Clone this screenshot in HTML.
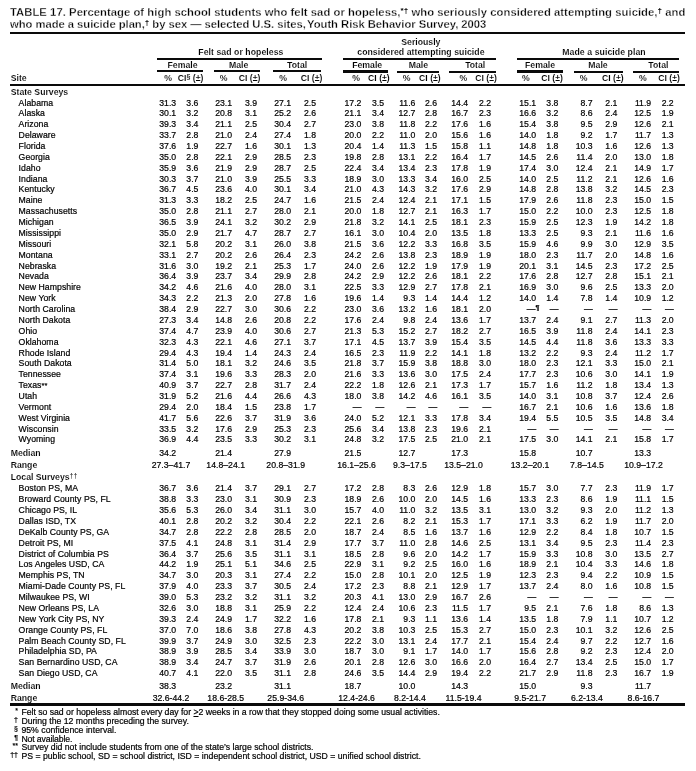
<!DOCTYPE html>
<html lang="en"><head><meta charset="utf-8"><title>TABLE 17</title>
<style>
html,body{margin:0;padding:0;background:#fff}
body{width:696px;height:771px;position:relative;overflow:hidden;font-family:"Liberation Sans",sans-serif;color:#000}
.x{position:absolute;white-space:nowrap;line-height:10px;font-size:8.7px;-webkit-text-stroke:.2px #000}
.b{font-weight:bold;-webkit-text-stroke:.1px #fff}
.t{line-height:12px;font-size:11.25px;font-weight:bold;-webkit-text-stroke:.3px #fff}
.r{position:absolute;background:#0a0a0a}
sup{font-size:.82em;line-height:0;vertical-align:baseline;position:relative;top:-.28em}
.t sup{font-size:.72em;top:-.42em;-webkit-text-stroke:0}
.c{transform:translateX(-50%)}
u{text-decoration:underline}
</style></head><body>
<div class="r" style="left:10px;top:32px;width:675px;height:2px"></div>
<div class="r" style="left:157px;top:58px;width:165px;height:2px"></div>
<div class="r" style="left:343px;top:58px;width:153px;height:2px"></div>
<div class="r" style="left:517px;top:58px;width:162px;height:2px"></div>
<div class="r" style="left:157px;top:70px;width:46px;height:2px"></div>
<div class="r" style="left:214px;top:70px;width:46px;height:2px"></div>
<div class="r" style="left:273px;top:70px;width:48px;height:2px"></div>
<div class="r" style="left:343px;top:70px;width:45px;height:3px"></div>
<div class="r" style="left:397px;top:71px;width:42px;height:2px"></div>
<div class="r" style="left:449px;top:71px;width:47px;height:2px"></div>
<div class="r" style="left:517px;top:70px;width:46px;height:3px"></div>
<div class="r" style="left:574px;top:71px;width:49px;height:2px"></div>
<div class="r" style="left:633px;top:71px;width:46px;height:2px"></div>
<div class="r" style="left:10px;top:84px;width:675px;height:2px"></div>
<div class="r" style="left:10px;top:703px;width:675px;height:2.5px"></div>
<div class="x t" style="top:6.1px;left:10px;letter-spacing:0.053px;">TABLE 17. Percentage of high school students who felt sad or hopeless,<sup>*†</sup> who seriously considered attempting suicide,<sup>†</sup> and</div>
<div class="x t" style="top:18.1px;left:10px;letter-spacing:-0.037px;">who made a suicide plan,<sup>†</sup> by sex — selected U.S. sites,<span style="margin-left:-1.5px"> </span>Youth Risk Behavior Survey, 2003</div>
<div class="x b c" style="top:46.79px;left:240.9px;letter-spacing:0.059px;">Felt sad or hopeless</div>
<div class="x b c" style="top:37.19px;left:420.9px;">Seriously</div>
<div class="x b c" style="top:46.79px;left:420.9px;letter-spacing:0.062px;">considered attempting suicide</div>
<div class="x b c" style="top:46.79px;left:604px;letter-spacing:0.075px;">Made a suicide plan</div>
<div class="x b c" style="top:59.79px;left:182.5px;">Female</div>
<div class="x b c" style="top:59.79px;left:238.6px;">Male</div>
<div class="x b c" style="top:59.79px;left:297.1px;">Total</div>
<div class="x b c" style="top:59.79px;left:367.2px;">Female</div>
<div class="x b c" style="top:59.79px;left:418.4px;">Male</div>
<div class="x b c" style="top:59.79px;left:475.2px;">Total</div>
<div class="x b c" style="top:59.79px;left:540px;">Female</div>
<div class="x b c" style="top:59.79px;left:598px;">Male</div>
<div class="x b c" style="top:59.79px;left:658.4px;">Total</div>
<div class="x b" style="top:72.99px;left:164.2px;">%</div>
<div class="x b" style="top:72.99px;right:492.6px;">CI<sup>§</sup> (±)</div>
<div class="x b" style="top:72.99px;left:219.8px;">%</div>
<div class="x b" style="top:72.99px;right:435.7px;">CI (±)</div>
<div class="x b" style="top:72.99px;left:279.3px;">%</div>
<div class="x b" style="top:72.99px;right:373.6px;">CI (±)</div>
<div class="x b" style="top:72.99px;left:352.3px;">%</div>
<div class="x b" style="top:72.99px;right:306.3px;">CI (±)</div>
<div class="x b" style="top:72.99px;left:402.8px;">%</div>
<div class="x b" style="top:72.99px;right:255.3px;">CI (±)</div>
<div class="x b" style="top:72.99px;left:459.6px;">%</div>
<div class="x b" style="top:72.99px;right:199.2px;">CI (±)</div>
<div class="x b" style="top:72.99px;left:522px;">%</div>
<div class="x b" style="top:72.99px;right:133.1px;">CI (±)</div>
<div class="x b" style="top:72.99px;left:579.7px;">%</div>
<div class="x b" style="top:72.99px;right:72.4px;">CI (±)</div>
<div class="x b" style="top:72.99px;left:638.9px;">%</div>
<div class="x b" style="top:72.99px;right:16.2px;">CI (±)</div>
<div class="x b" style="top:72.99px;left:10.7px;">Site</div>
<div class="x b" style="top:86.99px;left:10.7px;">State Surveys</div>
<div class="x" style="top:97.99px;left:18.6px;letter-spacing:0.04px;">Alabama</div>
<div class="x" style="top:97.99px;right:519.8px;">31.3</div>
<div class="x" style="top:97.99px;right:497.6px;">3.6</div>
<div class="x" style="top:97.99px;right:463.9px;">23.1</div>
<div class="x" style="top:97.99px;right:438.9px;">3.9</div>
<div class="x" style="top:97.99px;right:404.9px;">27.1</div>
<div class="x" style="top:97.99px;right:379.9px;">2.5</div>
<div class="x" style="top:97.99px;right:334.6px;">17.2</div>
<div class="x" style="top:97.99px;right:311.9px;">3.5</div>
<div class="x" style="top:97.99px;right:280.6px;">11.6</div>
<div class="x" style="top:97.99px;right:258.9px;">2.6</div>
<div class="x" style="top:97.99px;right:227.8px;">14.4</div>
<div class="x" style="top:97.99px;right:204.9px;">2.2</div>
<div class="x" style="top:97.99px;right:159.8px;">15.1</div>
<div class="x" style="top:97.99px;right:137.6px;">3.8</div>
<div class="x" style="top:97.99px;right:103.4px;">8.7</div>
<div class="x" style="top:97.99px;right:78.6px;">2.1</div>
<div class="x" style="top:97.99px;right:44.8px;">11.9</div>
<div class="x" style="top:97.99px;right:22.3px;">2.2</div>
<div class="x" style="top:107.99px;left:18.6px;letter-spacing:0.04px;">Alaska</div>
<div class="x" style="top:107.99px;right:519.8px;">30.1</div>
<div class="x" style="top:107.99px;right:497.6px;">3.2</div>
<div class="x" style="top:107.99px;right:463.9px;">20.8</div>
<div class="x" style="top:107.99px;right:438.9px;">3.1</div>
<div class="x" style="top:107.99px;right:404.9px;">25.2</div>
<div class="x" style="top:107.99px;right:379.9px;">2.6</div>
<div class="x" style="top:107.99px;right:334.6px;">21.1</div>
<div class="x" style="top:107.99px;right:311.9px;">3.4</div>
<div class="x" style="top:107.99px;right:280.6px;">12.7</div>
<div class="x" style="top:107.99px;right:258.9px;">2.8</div>
<div class="x" style="top:107.99px;right:227.8px;">16.7</div>
<div class="x" style="top:107.99px;right:204.9px;">2.3</div>
<div class="x" style="top:107.99px;right:159.8px;">16.6</div>
<div class="x" style="top:107.99px;right:137.6px;">3.2</div>
<div class="x" style="top:107.99px;right:103.4px;">8.6</div>
<div class="x" style="top:107.99px;right:78.6px;">2.4</div>
<div class="x" style="top:107.99px;right:44.8px;">12.5</div>
<div class="x" style="top:107.99px;right:22.3px;">1.9</div>
<div class="x" style="top:118.99px;left:18.6px;letter-spacing:0.04px;">Arizona</div>
<div class="x" style="top:118.99px;right:519.8px;">39.3</div>
<div class="x" style="top:118.99px;right:497.6px;">3.4</div>
<div class="x" style="top:118.99px;right:463.9px;">21.1</div>
<div class="x" style="top:118.99px;right:438.9px;">2.5</div>
<div class="x" style="top:118.99px;right:404.9px;">30.4</div>
<div class="x" style="top:118.99px;right:379.9px;">2.7</div>
<div class="x" style="top:118.99px;right:334.6px;">23.0</div>
<div class="x" style="top:118.99px;right:311.9px;">3.8</div>
<div class="x" style="top:118.99px;right:280.6px;">11.8</div>
<div class="x" style="top:118.99px;right:258.9px;">2.2</div>
<div class="x" style="top:118.99px;right:227.8px;">17.6</div>
<div class="x" style="top:118.99px;right:204.9px;">1.6</div>
<div class="x" style="top:118.99px;right:159.8px;">15.4</div>
<div class="x" style="top:118.99px;right:137.6px;">3.8</div>
<div class="x" style="top:118.99px;right:103.4px;">9.5</div>
<div class="x" style="top:118.99px;right:78.6px;">2.9</div>
<div class="x" style="top:118.99px;right:44.8px;">12.6</div>
<div class="x" style="top:118.99px;right:22.3px;">2.1</div>
<div class="x" style="top:129.99px;left:18.6px;letter-spacing:0.04px;">Delaware</div>
<div class="x" style="top:129.99px;right:519.8px;">33.7</div>
<div class="x" style="top:129.99px;right:497.6px;">2.8</div>
<div class="x" style="top:129.99px;right:463.9px;">21.0</div>
<div class="x" style="top:129.99px;right:438.9px;">2.4</div>
<div class="x" style="top:129.99px;right:404.9px;">27.4</div>
<div class="x" style="top:129.99px;right:379.9px;">1.8</div>
<div class="x" style="top:129.99px;right:334.6px;">20.0</div>
<div class="x" style="top:129.99px;right:311.9px;">2.2</div>
<div class="x" style="top:129.99px;right:280.6px;">11.0</div>
<div class="x" style="top:129.99px;right:258.9px;">2.0</div>
<div class="x" style="top:129.99px;right:227.8px;">15.6</div>
<div class="x" style="top:129.99px;right:204.9px;">1.6</div>
<div class="x" style="top:129.99px;right:159.8px;">14.0</div>
<div class="x" style="top:129.99px;right:137.6px;">1.8</div>
<div class="x" style="top:129.99px;right:103.4px;">9.2</div>
<div class="x" style="top:129.99px;right:78.6px;">1.7</div>
<div class="x" style="top:129.99px;right:44.8px;">11.7</div>
<div class="x" style="top:129.99px;right:22.3px;">1.3</div>
<div class="x" style="top:140.99px;left:18.6px;letter-spacing:0.04px;">Florida</div>
<div class="x" style="top:140.99px;right:519.8px;">37.6</div>
<div class="x" style="top:140.99px;right:497.6px;">1.9</div>
<div class="x" style="top:140.99px;right:463.9px;">22.7</div>
<div class="x" style="top:140.99px;right:438.9px;">1.6</div>
<div class="x" style="top:140.99px;right:404.9px;">30.1</div>
<div class="x" style="top:140.99px;right:379.9px;">1.3</div>
<div class="x" style="top:140.99px;right:334.6px;">20.4</div>
<div class="x" style="top:140.99px;right:311.9px;">1.4</div>
<div class="x" style="top:140.99px;right:280.6px;">11.3</div>
<div class="x" style="top:140.99px;right:258.9px;">1.5</div>
<div class="x" style="top:140.99px;right:227.8px;">15.8</div>
<div class="x" style="top:140.99px;right:204.9px;">1.1</div>
<div class="x" style="top:140.99px;right:159.8px;">14.8</div>
<div class="x" style="top:140.99px;right:137.6px;">1.8</div>
<div class="x" style="top:140.99px;right:103.4px;">10.3</div>
<div class="x" style="top:140.99px;right:78.6px;">1.6</div>
<div class="x" style="top:140.99px;right:44.8px;">12.6</div>
<div class="x" style="top:140.99px;right:22.3px;">1.3</div>
<div class="x" style="top:151.99px;left:18.6px;letter-spacing:0.04px;">Georgia</div>
<div class="x" style="top:151.99px;right:519.8px;">35.0</div>
<div class="x" style="top:151.99px;right:497.6px;">2.8</div>
<div class="x" style="top:151.99px;right:463.9px;">22.1</div>
<div class="x" style="top:151.99px;right:438.9px;">2.9</div>
<div class="x" style="top:151.99px;right:404.9px;">28.5</div>
<div class="x" style="top:151.99px;right:379.9px;">2.3</div>
<div class="x" style="top:151.99px;right:334.6px;">19.8</div>
<div class="x" style="top:151.99px;right:311.9px;">2.8</div>
<div class="x" style="top:151.99px;right:280.6px;">13.1</div>
<div class="x" style="top:151.99px;right:258.9px;">2.2</div>
<div class="x" style="top:151.99px;right:227.8px;">16.4</div>
<div class="x" style="top:151.99px;right:204.9px;">1.7</div>
<div class="x" style="top:151.99px;right:159.8px;">14.5</div>
<div class="x" style="top:151.99px;right:137.6px;">2.6</div>
<div class="x" style="top:151.99px;right:103.4px;">11.4</div>
<div class="x" style="top:151.99px;right:78.6px;">2.0</div>
<div class="x" style="top:151.99px;right:44.8px;">13.0</div>
<div class="x" style="top:151.99px;right:22.3px;">1.8</div>
<div class="x" style="top:162.99px;left:18.6px;letter-spacing:0.04px;">Idaho</div>
<div class="x" style="top:162.99px;right:519.8px;">35.9</div>
<div class="x" style="top:162.99px;right:497.6px;">3.6</div>
<div class="x" style="top:162.99px;right:463.9px;">21.9</div>
<div class="x" style="top:162.99px;right:438.9px;">2.9</div>
<div class="x" style="top:162.99px;right:404.9px;">28.7</div>
<div class="x" style="top:162.99px;right:379.9px;">2.5</div>
<div class="x" style="top:162.99px;right:334.6px;">22.4</div>
<div class="x" style="top:162.99px;right:311.9px;">3.4</div>
<div class="x" style="top:162.99px;right:280.6px;">13.4</div>
<div class="x" style="top:162.99px;right:258.9px;">2.3</div>
<div class="x" style="top:162.99px;right:227.8px;">17.8</div>
<div class="x" style="top:162.99px;right:204.9px;">1.9</div>
<div class="x" style="top:162.99px;right:159.8px;">17.4</div>
<div class="x" style="top:162.99px;right:137.6px;">3.0</div>
<div class="x" style="top:162.99px;right:103.4px;">12.4</div>
<div class="x" style="top:162.99px;right:78.6px;">2.1</div>
<div class="x" style="top:162.99px;right:44.8px;">14.9</div>
<div class="x" style="top:162.99px;right:22.3px;">1.7</div>
<div class="x" style="top:173.99px;left:18.6px;letter-spacing:0.04px;">Indiana</div>
<div class="x" style="top:173.99px;right:519.8px;">30.3</div>
<div class="x" style="top:173.99px;right:497.6px;">3.7</div>
<div class="x" style="top:173.99px;right:463.9px;">21.0</div>
<div class="x" style="top:173.99px;right:438.9px;">3.9</div>
<div class="x" style="top:173.99px;right:404.9px;">25.5</div>
<div class="x" style="top:173.99px;right:379.9px;">3.3</div>
<div class="x" style="top:173.99px;right:334.6px;">18.9</div>
<div class="x" style="top:173.99px;right:311.9px;">3.0</div>
<div class="x" style="top:173.99px;right:280.6px;">13.3</div>
<div class="x" style="top:173.99px;right:258.9px;">3.4</div>
<div class="x" style="top:173.99px;right:227.8px;">16.0</div>
<div class="x" style="top:173.99px;right:204.9px;">2.5</div>
<div class="x" style="top:173.99px;right:159.8px;">14.0</div>
<div class="x" style="top:173.99px;right:137.6px;">2.5</div>
<div class="x" style="top:173.99px;right:103.4px;">11.2</div>
<div class="x" style="top:173.99px;right:78.6px;">2.1</div>
<div class="x" style="top:173.99px;right:44.8px;">12.6</div>
<div class="x" style="top:173.99px;right:22.3px;">1.6</div>
<div class="x" style="top:183.99px;left:18.6px;letter-spacing:0.04px;">Kentucky</div>
<div class="x" style="top:183.99px;right:519.8px;">36.7</div>
<div class="x" style="top:183.99px;right:497.6px;">4.5</div>
<div class="x" style="top:183.99px;right:463.9px;">23.6</div>
<div class="x" style="top:183.99px;right:438.9px;">4.0</div>
<div class="x" style="top:183.99px;right:404.9px;">30.1</div>
<div class="x" style="top:183.99px;right:379.9px;">3.4</div>
<div class="x" style="top:183.99px;right:334.6px;">21.0</div>
<div class="x" style="top:183.99px;right:311.9px;">4.3</div>
<div class="x" style="top:183.99px;right:280.6px;">14.3</div>
<div class="x" style="top:183.99px;right:258.9px;">3.2</div>
<div class="x" style="top:183.99px;right:227.8px;">17.6</div>
<div class="x" style="top:183.99px;right:204.9px;">2.9</div>
<div class="x" style="top:183.99px;right:159.8px;">14.8</div>
<div class="x" style="top:183.99px;right:137.6px;">2.8</div>
<div class="x" style="top:183.99px;right:103.4px;">13.8</div>
<div class="x" style="top:183.99px;right:78.6px;">3.2</div>
<div class="x" style="top:183.99px;right:44.8px;">14.5</div>
<div class="x" style="top:183.99px;right:22.3px;">2.3</div>
<div class="x" style="top:194.99px;left:18.6px;letter-spacing:0.04px;">Maine</div>
<div class="x" style="top:194.99px;right:519.8px;">31.3</div>
<div class="x" style="top:194.99px;right:497.6px;">3.3</div>
<div class="x" style="top:194.99px;right:463.9px;">18.2</div>
<div class="x" style="top:194.99px;right:438.9px;">2.5</div>
<div class="x" style="top:194.99px;right:404.9px;">24.7</div>
<div class="x" style="top:194.99px;right:379.9px;">1.6</div>
<div class="x" style="top:194.99px;right:334.6px;">21.5</div>
<div class="x" style="top:194.99px;right:311.9px;">2.4</div>
<div class="x" style="top:194.99px;right:280.6px;">12.4</div>
<div class="x" style="top:194.99px;right:258.9px;">2.1</div>
<div class="x" style="top:194.99px;right:227.8px;">17.1</div>
<div class="x" style="top:194.99px;right:204.9px;">1.5</div>
<div class="x" style="top:194.99px;right:159.8px;">17.9</div>
<div class="x" style="top:194.99px;right:137.6px;">2.6</div>
<div class="x" style="top:194.99px;right:103.4px;">11.8</div>
<div class="x" style="top:194.99px;right:78.6px;">2.3</div>
<div class="x" style="top:194.99px;right:44.8px;">15.0</div>
<div class="x" style="top:194.99px;right:22.3px;">1.5</div>
<div class="x" style="top:205.99px;left:18.6px;letter-spacing:0.04px;">Massachusetts</div>
<div class="x" style="top:205.99px;right:519.8px;">35.0</div>
<div class="x" style="top:205.99px;right:497.6px;">2.8</div>
<div class="x" style="top:205.99px;right:463.9px;">21.1</div>
<div class="x" style="top:205.99px;right:438.9px;">2.7</div>
<div class="x" style="top:205.99px;right:404.9px;">28.0</div>
<div class="x" style="top:205.99px;right:379.9px;">2.1</div>
<div class="x" style="top:205.99px;right:334.6px;">20.0</div>
<div class="x" style="top:205.99px;right:311.9px;">1.8</div>
<div class="x" style="top:205.99px;right:280.6px;">12.7</div>
<div class="x" style="top:205.99px;right:258.9px;">2.1</div>
<div class="x" style="top:205.99px;right:227.8px;">16.3</div>
<div class="x" style="top:205.99px;right:204.9px;">1.7</div>
<div class="x" style="top:205.99px;right:159.8px;">15.0</div>
<div class="x" style="top:205.99px;right:137.6px;">2.2</div>
<div class="x" style="top:205.99px;right:103.4px;">10.0</div>
<div class="x" style="top:205.99px;right:78.6px;">2.3</div>
<div class="x" style="top:205.99px;right:44.8px;">12.5</div>
<div class="x" style="top:205.99px;right:22.3px;">1.8</div>
<div class="x" style="top:216.99px;left:18.6px;letter-spacing:0.04px;">Michigan</div>
<div class="x" style="top:216.99px;right:519.8px;">36.5</div>
<div class="x" style="top:216.99px;right:497.6px;">3.9</div>
<div class="x" style="top:216.99px;right:463.9px;">24.1</div>
<div class="x" style="top:216.99px;right:438.9px;">3.2</div>
<div class="x" style="top:216.99px;right:404.9px;">30.2</div>
<div class="x" style="top:216.99px;right:379.9px;">2.9</div>
<div class="x" style="top:216.99px;right:334.6px;">21.8</div>
<div class="x" style="top:216.99px;right:311.9px;">3.2</div>
<div class="x" style="top:216.99px;right:280.6px;">14.1</div>
<div class="x" style="top:216.99px;right:258.9px;">2.5</div>
<div class="x" style="top:216.99px;right:227.8px;">18.1</div>
<div class="x" style="top:216.99px;right:204.9px;">2.3</div>
<div class="x" style="top:216.99px;right:159.8px;">15.9</div>
<div class="x" style="top:216.99px;right:137.6px;">2.5</div>
<div class="x" style="top:216.99px;right:103.4px;">12.3</div>
<div class="x" style="top:216.99px;right:78.6px;">1.9</div>
<div class="x" style="top:216.99px;right:44.8px;">14.2</div>
<div class="x" style="top:216.99px;right:22.3px;">1.8</div>
<div class="x" style="top:227.99px;left:18.6px;letter-spacing:0.04px;">Mississippi</div>
<div class="x" style="top:227.99px;right:519.8px;">35.0</div>
<div class="x" style="top:227.99px;right:497.6px;">2.9</div>
<div class="x" style="top:227.99px;right:463.9px;">21.7</div>
<div class="x" style="top:227.99px;right:438.9px;">4.7</div>
<div class="x" style="top:227.99px;right:404.9px;">28.7</div>
<div class="x" style="top:227.99px;right:379.9px;">2.7</div>
<div class="x" style="top:227.99px;right:334.6px;">16.1</div>
<div class="x" style="top:227.99px;right:311.9px;">3.0</div>
<div class="x" style="top:227.99px;right:280.6px;">10.4</div>
<div class="x" style="top:227.99px;right:258.9px;">2.0</div>
<div class="x" style="top:227.99px;right:227.8px;">13.5</div>
<div class="x" style="top:227.99px;right:204.9px;">1.8</div>
<div class="x" style="top:227.99px;right:159.8px;">13.3</div>
<div class="x" style="top:227.99px;right:137.6px;">2.5</div>
<div class="x" style="top:227.99px;right:103.4px;">9.3</div>
<div class="x" style="top:227.99px;right:78.6px;">2.1</div>
<div class="x" style="top:227.99px;right:44.8px;">11.6</div>
<div class="x" style="top:227.99px;right:22.3px;">1.6</div>
<div class="x" style="top:238.99px;left:18.6px;letter-spacing:0.04px;">Missouri</div>
<div class="x" style="top:238.99px;right:519.8px;">32.1</div>
<div class="x" style="top:238.99px;right:497.6px;">5.8</div>
<div class="x" style="top:238.99px;right:463.9px;">20.2</div>
<div class="x" style="top:238.99px;right:438.9px;">3.1</div>
<div class="x" style="top:238.99px;right:404.9px;">26.0</div>
<div class="x" style="top:238.99px;right:379.9px;">3.8</div>
<div class="x" style="top:238.99px;right:334.6px;">21.5</div>
<div class="x" style="top:238.99px;right:311.9px;">3.6</div>
<div class="x" style="top:238.99px;right:280.6px;">12.2</div>
<div class="x" style="top:238.99px;right:258.9px;">3.3</div>
<div class="x" style="top:238.99px;right:227.8px;">16.8</div>
<div class="x" style="top:238.99px;right:204.9px;">3.5</div>
<div class="x" style="top:238.99px;right:159.8px;">15.9</div>
<div class="x" style="top:238.99px;right:137.6px;">4.6</div>
<div class="x" style="top:238.99px;right:103.4px;">9.9</div>
<div class="x" style="top:238.99px;right:78.6px;">3.0</div>
<div class="x" style="top:238.99px;right:44.8px;">12.9</div>
<div class="x" style="top:238.99px;right:22.3px;">3.5</div>
<div class="x" style="top:249.99px;left:18.6px;letter-spacing:0.04px;">Montana</div>
<div class="x" style="top:249.99px;right:519.8px;">33.1</div>
<div class="x" style="top:249.99px;right:497.6px;">2.7</div>
<div class="x" style="top:249.99px;right:463.9px;">20.2</div>
<div class="x" style="top:249.99px;right:438.9px;">2.6</div>
<div class="x" style="top:249.99px;right:404.9px;">26.4</div>
<div class="x" style="top:249.99px;right:379.9px;">2.3</div>
<div class="x" style="top:249.99px;right:334.6px;">24.2</div>
<div class="x" style="top:249.99px;right:311.9px;">2.6</div>
<div class="x" style="top:249.99px;right:280.6px;">13.8</div>
<div class="x" style="top:249.99px;right:258.9px;">2.3</div>
<div class="x" style="top:249.99px;right:227.8px;">18.9</div>
<div class="x" style="top:249.99px;right:204.9px;">1.9</div>
<div class="x" style="top:249.99px;right:159.8px;">18.0</div>
<div class="x" style="top:249.99px;right:137.6px;">2.3</div>
<div class="x" style="top:249.99px;right:103.4px;">11.7</div>
<div class="x" style="top:249.99px;right:78.6px;">2.0</div>
<div class="x" style="top:249.99px;right:44.8px;">14.8</div>
<div class="x" style="top:249.99px;right:22.3px;">1.6</div>
<div class="x" style="top:260.99px;left:18.6px;letter-spacing:0.04px;">Nebraska</div>
<div class="x" style="top:260.99px;right:519.8px;">31.6</div>
<div class="x" style="top:260.99px;right:497.6px;">3.0</div>
<div class="x" style="top:260.99px;right:463.9px;">19.2</div>
<div class="x" style="top:260.99px;right:438.9px;">2.1</div>
<div class="x" style="top:260.99px;right:404.9px;">25.3</div>
<div class="x" style="top:260.99px;right:379.9px;">1.7</div>
<div class="x" style="top:260.99px;right:334.6px;">24.0</div>
<div class="x" style="top:260.99px;right:311.9px;">2.6</div>
<div class="x" style="top:260.99px;right:280.6px;">12.2</div>
<div class="x" style="top:260.99px;right:258.9px;">1.9</div>
<div class="x" style="top:260.99px;right:227.8px;">17.9</div>
<div class="x" style="top:260.99px;right:204.9px;">1.9</div>
<div class="x" style="top:260.99px;right:159.8px;">20.1</div>
<div class="x" style="top:260.99px;right:137.6px;">3.1</div>
<div class="x" style="top:260.99px;right:103.4px;">14.5</div>
<div class="x" style="top:260.99px;right:78.6px;">2.3</div>
<div class="x" style="top:260.99px;right:44.8px;">17.2</div>
<div class="x" style="top:260.99px;right:22.3px;">2.5</div>
<div class="x" style="top:270.99px;left:18.6px;letter-spacing:0.04px;">Nevada</div>
<div class="x" style="top:270.99px;right:519.8px;">36.4</div>
<div class="x" style="top:270.99px;right:497.6px;">3.9</div>
<div class="x" style="top:270.99px;right:463.9px;">23.7</div>
<div class="x" style="top:270.99px;right:438.9px;">3.4</div>
<div class="x" style="top:270.99px;right:404.9px;">29.9</div>
<div class="x" style="top:270.99px;right:379.9px;">2.8</div>
<div class="x" style="top:270.99px;right:334.6px;">24.2</div>
<div class="x" style="top:270.99px;right:311.9px;">2.9</div>
<div class="x" style="top:270.99px;right:280.6px;">12.2</div>
<div class="x" style="top:270.99px;right:258.9px;">2.6</div>
<div class="x" style="top:270.99px;right:227.8px;">18.1</div>
<div class="x" style="top:270.99px;right:204.9px;">2.2</div>
<div class="x" style="top:270.99px;right:159.8px;">17.6</div>
<div class="x" style="top:270.99px;right:137.6px;">2.8</div>
<div class="x" style="top:270.99px;right:103.4px;">12.7</div>
<div class="x" style="top:270.99px;right:78.6px;">2.8</div>
<div class="x" style="top:270.99px;right:44.8px;">15.1</div>
<div class="x" style="top:270.99px;right:22.3px;">2.1</div>
<div class="x" style="top:281.99px;left:18.6px;letter-spacing:0.04px;">New Hampshire</div>
<div class="x" style="top:281.99px;right:519.8px;">34.2</div>
<div class="x" style="top:281.99px;right:497.6px;">4.6</div>
<div class="x" style="top:281.99px;right:463.9px;">21.6</div>
<div class="x" style="top:281.99px;right:438.9px;">4.0</div>
<div class="x" style="top:281.99px;right:404.9px;">28.0</div>
<div class="x" style="top:281.99px;right:379.9px;">3.1</div>
<div class="x" style="top:281.99px;right:334.6px;">22.5</div>
<div class="x" style="top:281.99px;right:311.9px;">3.3</div>
<div class="x" style="top:281.99px;right:280.6px;">12.9</div>
<div class="x" style="top:281.99px;right:258.9px;">2.7</div>
<div class="x" style="top:281.99px;right:227.8px;">17.8</div>
<div class="x" style="top:281.99px;right:204.9px;">2.1</div>
<div class="x" style="top:281.99px;right:159.8px;">16.9</div>
<div class="x" style="top:281.99px;right:137.6px;">3.0</div>
<div class="x" style="top:281.99px;right:103.4px;">9.6</div>
<div class="x" style="top:281.99px;right:78.6px;">2.5</div>
<div class="x" style="top:281.99px;right:44.8px;">13.3</div>
<div class="x" style="top:281.99px;right:22.3px;">2.0</div>
<div class="x" style="top:292.99px;left:18.6px;letter-spacing:0.04px;">New York</div>
<div class="x" style="top:292.99px;right:519.8px;">34.3</div>
<div class="x" style="top:292.99px;right:497.6px;">2.2</div>
<div class="x" style="top:292.99px;right:463.9px;">21.3</div>
<div class="x" style="top:292.99px;right:438.9px;">2.0</div>
<div class="x" style="top:292.99px;right:404.9px;">27.8</div>
<div class="x" style="top:292.99px;right:379.9px;">1.6</div>
<div class="x" style="top:292.99px;right:334.6px;">19.6</div>
<div class="x" style="top:292.99px;right:311.9px;">1.4</div>
<div class="x" style="top:292.99px;right:280.6px;">9.3</div>
<div class="x" style="top:292.99px;right:258.9px;">1.4</div>
<div class="x" style="top:292.99px;right:227.8px;">14.4</div>
<div class="x" style="top:292.99px;right:204.9px;">1.2</div>
<div class="x" style="top:292.99px;right:159.8px;">14.0</div>
<div class="x" style="top:292.99px;right:137.6px;">1.4</div>
<div class="x" style="top:292.99px;right:103.4px;">7.8</div>
<div class="x" style="top:292.99px;right:78.6px;">1.4</div>
<div class="x" style="top:292.99px;right:44.8px;">10.9</div>
<div class="x" style="top:292.99px;right:22.3px;">1.2</div>
<div class="x" style="top:303.99px;left:18.6px;letter-spacing:0.04px;">North Carolina</div>
<div class="x" style="top:303.99px;right:519.8px;">38.4</div>
<div class="x" style="top:303.99px;right:497.6px;">2.9</div>
<div class="x" style="top:303.99px;right:463.9px;">22.7</div>
<div class="x" style="top:303.99px;right:438.9px;">3.0</div>
<div class="x" style="top:303.99px;right:404.9px;">30.6</div>
<div class="x" style="top:303.99px;right:379.9px;">2.2</div>
<div class="x" style="top:303.99px;right:334.6px;">23.0</div>
<div class="x" style="top:303.99px;right:311.9px;">3.6</div>
<div class="x" style="top:303.99px;right:280.6px;">13.2</div>
<div class="x" style="top:303.99px;right:258.9px;">1.6</div>
<div class="x" style="top:303.99px;right:227.8px;">18.1</div>
<div class="x" style="top:303.99px;right:204.9px;">2.0</div>
<div class="x" style="top:303.99px;right:156.5px;">—<sup style="font-weight:bold">¶</sup></div>
<div class="x" style="top:303.99px;right:137.6px;">—</div>
<div class="x" style="top:303.99px;right:103.4px;">—</div>
<div class="x" style="top:303.99px;right:78.6px;">—</div>
<div class="x" style="top:303.99px;right:44.8px;">—</div>
<div class="x" style="top:303.99px;right:22.3px;">—</div>
<div class="x" style="top:314.99px;left:18.6px;letter-spacing:0.04px;">North Dakota</div>
<div class="x" style="top:314.99px;right:519.8px;">27.3</div>
<div class="x" style="top:314.99px;right:497.6px;">3.4</div>
<div class="x" style="top:314.99px;right:463.9px;">14.8</div>
<div class="x" style="top:314.99px;right:438.9px;">2.6</div>
<div class="x" style="top:314.99px;right:404.9px;">20.8</div>
<div class="x" style="top:314.99px;right:379.9px;">2.2</div>
<div class="x" style="top:314.99px;right:334.6px;">17.6</div>
<div class="x" style="top:314.99px;right:311.9px;">2.4</div>
<div class="x" style="top:314.99px;right:280.6px;">9.8</div>
<div class="x" style="top:314.99px;right:258.9px;">2.4</div>
<div class="x" style="top:314.99px;right:227.8px;">13.6</div>
<div class="x" style="top:314.99px;right:204.9px;">1.7</div>
<div class="x" style="top:314.99px;right:159.8px;">13.7</div>
<div class="x" style="top:314.99px;right:137.6px;">2.4</div>
<div class="x" style="top:314.99px;right:103.4px;">9.1</div>
<div class="x" style="top:314.99px;right:78.6px;">2.7</div>
<div class="x" style="top:314.99px;right:44.8px;">11.3</div>
<div class="x" style="top:314.99px;right:22.3px;">2.0</div>
<div class="x" style="top:325.99px;left:18.6px;letter-spacing:0.04px;">Ohio</div>
<div class="x" style="top:325.99px;right:519.8px;">37.4</div>
<div class="x" style="top:325.99px;right:497.6px;">4.7</div>
<div class="x" style="top:325.99px;right:463.9px;">23.9</div>
<div class="x" style="top:325.99px;right:438.9px;">4.0</div>
<div class="x" style="top:325.99px;right:404.9px;">30.6</div>
<div class="x" style="top:325.99px;right:379.9px;">2.7</div>
<div class="x" style="top:325.99px;right:334.6px;">21.3</div>
<div class="x" style="top:325.99px;right:311.9px;">5.3</div>
<div class="x" style="top:325.99px;right:280.6px;">15.2</div>
<div class="x" style="top:325.99px;right:258.9px;">2.7</div>
<div class="x" style="top:325.99px;right:227.8px;">18.2</div>
<div class="x" style="top:325.99px;right:204.9px;">2.7</div>
<div class="x" style="top:325.99px;right:159.8px;">16.5</div>
<div class="x" style="top:325.99px;right:137.6px;">3.9</div>
<div class="x" style="top:325.99px;right:103.4px;">11.8</div>
<div class="x" style="top:325.99px;right:78.6px;">2.4</div>
<div class="x" style="top:325.99px;right:44.8px;">14.1</div>
<div class="x" style="top:325.99px;right:22.3px;">2.3</div>
<div class="x" style="top:336.99px;left:18.6px;letter-spacing:0.04px;">Oklahoma</div>
<div class="x" style="top:336.99px;right:519.8px;">32.3</div>
<div class="x" style="top:336.99px;right:497.6px;">4.3</div>
<div class="x" style="top:336.99px;right:463.9px;">22.1</div>
<div class="x" style="top:336.99px;right:438.9px;">4.6</div>
<div class="x" style="top:336.99px;right:404.9px;">27.1</div>
<div class="x" style="top:336.99px;right:379.9px;">3.7</div>
<div class="x" style="top:336.99px;right:334.6px;">17.1</div>
<div class="x" style="top:336.99px;right:311.9px;">4.5</div>
<div class="x" style="top:336.99px;right:280.6px;">13.7</div>
<div class="x" style="top:336.99px;right:258.9px;">3.9</div>
<div class="x" style="top:336.99px;right:227.8px;">15.4</div>
<div class="x" style="top:336.99px;right:204.9px;">3.5</div>
<div class="x" style="top:336.99px;right:159.8px;">14.5</div>
<div class="x" style="top:336.99px;right:137.6px;">4.4</div>
<div class="x" style="top:336.99px;right:103.4px;">11.8</div>
<div class="x" style="top:336.99px;right:78.6px;">3.6</div>
<div class="x" style="top:336.99px;right:44.8px;">13.3</div>
<div class="x" style="top:336.99px;right:22.3px;">3.3</div>
<div class="x" style="top:347.99px;left:18.6px;letter-spacing:0.04px;">Rhode Island</div>
<div class="x" style="top:347.99px;right:519.8px;">29.4</div>
<div class="x" style="top:347.99px;right:497.6px;">4.3</div>
<div class="x" style="top:347.99px;right:463.9px;">19.4</div>
<div class="x" style="top:347.99px;right:438.9px;">1.4</div>
<div class="x" style="top:347.99px;right:404.9px;">24.3</div>
<div class="x" style="top:347.99px;right:379.9px;">2.4</div>
<div class="x" style="top:347.99px;right:334.6px;">16.5</div>
<div class="x" style="top:347.99px;right:311.9px;">2.3</div>
<div class="x" style="top:347.99px;right:280.6px;">11.9</div>
<div class="x" style="top:347.99px;right:258.9px;">2.2</div>
<div class="x" style="top:347.99px;right:227.8px;">14.1</div>
<div class="x" style="top:347.99px;right:204.9px;">1.8</div>
<div class="x" style="top:347.99px;right:159.8px;">13.2</div>
<div class="x" style="top:347.99px;right:137.6px;">2.2</div>
<div class="x" style="top:347.99px;right:103.4px;">9.3</div>
<div class="x" style="top:347.99px;right:78.6px;">2.4</div>
<div class="x" style="top:347.99px;right:44.8px;">11.2</div>
<div class="x" style="top:347.99px;right:22.3px;">1.7</div>
<div class="x" style="top:357.99px;left:18.6px;letter-spacing:0.04px;">South Dakota</div>
<div class="x" style="top:357.99px;right:519.8px;">31.4</div>
<div class="x" style="top:357.99px;right:497.6px;">5.0</div>
<div class="x" style="top:357.99px;right:463.9px;">18.1</div>
<div class="x" style="top:357.99px;right:438.9px;">3.2</div>
<div class="x" style="top:357.99px;right:404.9px;">24.6</div>
<div class="x" style="top:357.99px;right:379.9px;">3.5</div>
<div class="x" style="top:357.99px;right:334.6px;">21.8</div>
<div class="x" style="top:357.99px;right:311.9px;">3.7</div>
<div class="x" style="top:357.99px;right:280.6px;">15.9</div>
<div class="x" style="top:357.99px;right:258.9px;">3.8</div>
<div class="x" style="top:357.99px;right:227.8px;">18.8</div>
<div class="x" style="top:357.99px;right:204.9px;">3.0</div>
<div class="x" style="top:357.99px;right:159.8px;">18.0</div>
<div class="x" style="top:357.99px;right:137.6px;">2.3</div>
<div class="x" style="top:357.99px;right:103.4px;">12.1</div>
<div class="x" style="top:357.99px;right:78.6px;">3.3</div>
<div class="x" style="top:357.99px;right:44.8px;">15.0</div>
<div class="x" style="top:357.99px;right:22.3px;">2.1</div>
<div class="x" style="top:368.99px;left:18.6px;letter-spacing:0.04px;">Tennessee</div>
<div class="x" style="top:368.99px;right:519.8px;">37.4</div>
<div class="x" style="top:368.99px;right:497.6px;">3.1</div>
<div class="x" style="top:368.99px;right:463.9px;">19.6</div>
<div class="x" style="top:368.99px;right:438.9px;">3.3</div>
<div class="x" style="top:368.99px;right:404.9px;">28.3</div>
<div class="x" style="top:368.99px;right:379.9px;">2.0</div>
<div class="x" style="top:368.99px;right:334.6px;">21.6</div>
<div class="x" style="top:368.99px;right:311.9px;">3.3</div>
<div class="x" style="top:368.99px;right:280.6px;">13.6</div>
<div class="x" style="top:368.99px;right:258.9px;">3.0</div>
<div class="x" style="top:368.99px;right:227.8px;">17.5</div>
<div class="x" style="top:368.99px;right:204.9px;">2.4</div>
<div class="x" style="top:368.99px;right:159.8px;">17.7</div>
<div class="x" style="top:368.99px;right:137.6px;">2.3</div>
<div class="x" style="top:368.99px;right:103.4px;">10.6</div>
<div class="x" style="top:368.99px;right:78.6px;">3.0</div>
<div class="x" style="top:368.99px;right:44.8px;">14.1</div>
<div class="x" style="top:368.99px;right:22.3px;">1.9</div>
<div class="x" style="top:379.99px;left:18.6px;letter-spacing:0.04px;">Texas<span style="font-size:.85em">**</span></div>
<div class="x" style="top:379.99px;right:519.8px;">40.9</div>
<div class="x" style="top:379.99px;right:497.6px;">3.7</div>
<div class="x" style="top:379.99px;right:463.9px;">22.7</div>
<div class="x" style="top:379.99px;right:438.9px;">2.8</div>
<div class="x" style="top:379.99px;right:404.9px;">31.7</div>
<div class="x" style="top:379.99px;right:379.9px;">2.4</div>
<div class="x" style="top:379.99px;right:334.6px;">22.2</div>
<div class="x" style="top:379.99px;right:311.9px;">1.8</div>
<div class="x" style="top:379.99px;right:280.6px;">12.6</div>
<div class="x" style="top:379.99px;right:258.9px;">2.1</div>
<div class="x" style="top:379.99px;right:227.8px;">17.3</div>
<div class="x" style="top:379.99px;right:204.9px;">1.7</div>
<div class="x" style="top:379.99px;right:159.8px;">15.7</div>
<div class="x" style="top:379.99px;right:137.6px;">1.6</div>
<div class="x" style="top:379.99px;right:103.4px;">11.2</div>
<div class="x" style="top:379.99px;right:78.6px;">1.8</div>
<div class="x" style="top:379.99px;right:44.8px;">13.4</div>
<div class="x" style="top:379.99px;right:22.3px;">1.3</div>
<div class="x" style="top:390.99px;left:18.6px;letter-spacing:0.04px;">Utah</div>
<div class="x" style="top:390.99px;right:519.8px;">31.9</div>
<div class="x" style="top:390.99px;right:497.6px;">5.2</div>
<div class="x" style="top:390.99px;right:463.9px;">21.6</div>
<div class="x" style="top:390.99px;right:438.9px;">4.4</div>
<div class="x" style="top:390.99px;right:404.9px;">26.6</div>
<div class="x" style="top:390.99px;right:379.9px;">4.3</div>
<div class="x" style="top:390.99px;right:334.6px;">18.0</div>
<div class="x" style="top:390.99px;right:311.9px;">3.8</div>
<div class="x" style="top:390.99px;right:280.6px;">14.2</div>
<div class="x" style="top:390.99px;right:258.9px;">4.6</div>
<div class="x" style="top:390.99px;right:227.8px;">16.1</div>
<div class="x" style="top:390.99px;right:204.9px;">3.5</div>
<div class="x" style="top:390.99px;right:159.8px;">14.0</div>
<div class="x" style="top:390.99px;right:137.6px;">3.1</div>
<div class="x" style="top:390.99px;right:103.4px;">10.8</div>
<div class="x" style="top:390.99px;right:78.6px;">3.7</div>
<div class="x" style="top:390.99px;right:44.8px;">12.4</div>
<div class="x" style="top:390.99px;right:22.3px;">2.6</div>
<div class="x" style="top:401.99px;left:18.6px;letter-spacing:0.04px;">Vermont</div>
<div class="x" style="top:401.99px;right:519.8px;">29.4</div>
<div class="x" style="top:401.99px;right:497.6px;">2.0</div>
<div class="x" style="top:401.99px;right:463.9px;">18.4</div>
<div class="x" style="top:401.99px;right:438.9px;">1.5</div>
<div class="x" style="top:401.99px;right:404.9px;">23.8</div>
<div class="x" style="top:401.99px;right:379.9px;">1.7</div>
<div class="x" style="top:401.99px;right:334.6px;">—</div>
<div class="x" style="top:401.99px;right:311.9px;">—</div>
<div class="x" style="top:401.99px;right:280.6px;">—</div>
<div class="x" style="top:401.99px;right:258.9px;">—</div>
<div class="x" style="top:401.99px;right:227.8px;">—</div>
<div class="x" style="top:401.99px;right:204.9px;">—</div>
<div class="x" style="top:401.99px;right:159.8px;">16.7</div>
<div class="x" style="top:401.99px;right:137.6px;">2.1</div>
<div class="x" style="top:401.99px;right:103.4px;">10.6</div>
<div class="x" style="top:401.99px;right:78.6px;">1.6</div>
<div class="x" style="top:401.99px;right:44.8px;">13.6</div>
<div class="x" style="top:401.99px;right:22.3px;">1.8</div>
<div class="x" style="top:412.99px;left:18.6px;letter-spacing:0.04px;">West Virginia</div>
<div class="x" style="top:412.99px;right:519.8px;">41.7</div>
<div class="x" style="top:412.99px;right:497.6px;">5.6</div>
<div class="x" style="top:412.99px;right:463.9px;">22.6</div>
<div class="x" style="top:412.99px;right:438.9px;">3.7</div>
<div class="x" style="top:412.99px;right:404.9px;">31.9</div>
<div class="x" style="top:412.99px;right:379.9px;">3.6</div>
<div class="x" style="top:412.99px;right:334.6px;">24.0</div>
<div class="x" style="top:412.99px;right:311.9px;">5.2</div>
<div class="x" style="top:412.99px;right:280.6px;">12.1</div>
<div class="x" style="top:412.99px;right:258.9px;">3.3</div>
<div class="x" style="top:412.99px;right:227.8px;">17.8</div>
<div class="x" style="top:412.99px;right:204.9px;">3.4</div>
<div class="x" style="top:412.99px;right:159.8px;">19.4</div>
<div class="x" style="top:412.99px;right:137.6px;">5.5</div>
<div class="x" style="top:412.99px;right:103.4px;">10.5</div>
<div class="x" style="top:412.99px;right:78.6px;">3.5</div>
<div class="x" style="top:412.99px;right:44.8px;">14.8</div>
<div class="x" style="top:412.99px;right:22.3px;">3.4</div>
<div class="x" style="top:423.99px;left:18.6px;letter-spacing:0.04px;">Wisconsin</div>
<div class="x" style="top:423.99px;right:519.8px;">33.5</div>
<div class="x" style="top:423.99px;right:497.6px;">3.2</div>
<div class="x" style="top:423.99px;right:463.9px;">17.6</div>
<div class="x" style="top:423.99px;right:438.9px;">2.9</div>
<div class="x" style="top:423.99px;right:404.9px;">25.3</div>
<div class="x" style="top:423.99px;right:379.9px;">2.3</div>
<div class="x" style="top:423.99px;right:334.6px;">25.6</div>
<div class="x" style="top:423.99px;right:311.9px;">3.4</div>
<div class="x" style="top:423.99px;right:280.6px;">13.8</div>
<div class="x" style="top:423.99px;right:258.9px;">2.3</div>
<div class="x" style="top:423.99px;right:227.8px;">19.6</div>
<div class="x" style="top:423.99px;right:204.9px;">2.1</div>
<div class="x" style="top:423.99px;right:159.8px;">—</div>
<div class="x" style="top:423.99px;right:137.6px;">—</div>
<div class="x" style="top:423.99px;right:103.4px;">—</div>
<div class="x" style="top:423.99px;right:78.6px;">—</div>
<div class="x" style="top:423.99px;right:44.8px;">—</div>
<div class="x" style="top:423.99px;right:22.3px;">—</div>
<div class="x" style="top:433.99px;left:18.6px;letter-spacing:0.04px;">Wyoming</div>
<div class="x" style="top:433.99px;right:519.8px;">36.9</div>
<div class="x" style="top:433.99px;right:497.6px;">4.4</div>
<div class="x" style="top:433.99px;right:463.9px;">23.5</div>
<div class="x" style="top:433.99px;right:438.9px;">3.3</div>
<div class="x" style="top:433.99px;right:404.9px;">30.2</div>
<div class="x" style="top:433.99px;right:379.9px;">3.1</div>
<div class="x" style="top:433.99px;right:334.6px;">24.8</div>
<div class="x" style="top:433.99px;right:311.9px;">3.2</div>
<div class="x" style="top:433.99px;right:280.6px;">17.5</div>
<div class="x" style="top:433.99px;right:258.9px;">2.5</div>
<div class="x" style="top:433.99px;right:227.8px;">21.0</div>
<div class="x" style="top:433.99px;right:204.9px;">2.1</div>
<div class="x" style="top:433.99px;right:159.8px;">17.5</div>
<div class="x" style="top:433.99px;right:137.6px;">3.0</div>
<div class="x" style="top:433.99px;right:103.4px;">14.1</div>
<div class="x" style="top:433.99px;right:78.6px;">2.1</div>
<div class="x" style="top:433.99px;right:44.8px;">15.8</div>
<div class="x" style="top:433.99px;right:22.3px;">1.7</div>
<div class="x b" style="top:447.99px;left:10.7px;">Median</div>
<div class="x b" style="top:459.99px;left:10.7px;">Range</div>
<div class="x" style="top:447.99px;right:519.8px;">34.2</div>
<div class="x c" style="top:459.99px;left:171px;">27.3–41.7</div>
<div class="x" style="top:447.99px;right:463.9px;">21.4</div>
<div class="x c" style="top:459.99px;left:225.7px;">14.8–24.1</div>
<div class="x" style="top:447.99px;right:404.9px;">27.9</div>
<div class="x c" style="top:459.99px;left:285.7px;">20.8–31.9</div>
<div class="x" style="top:447.99px;right:334.6px;">21.5</div>
<div class="x c" style="top:459.99px;left:356.6px;">16.1–25.6</div>
<div class="x" style="top:447.99px;right:280.6px;">12.7</div>
<div class="x c" style="top:459.99px;left:409.9px;">9.3–17.5</div>
<div class="x" style="top:447.99px;right:227.8px;">17.3</div>
<div class="x c" style="top:459.99px;left:463.5px;">13.5–21.0</div>
<div class="x" style="top:447.99px;right:159.8px;">15.8</div>
<div class="x c" style="top:459.99px;left:530.1px;">13.2–20.1</div>
<div class="x" style="top:447.99px;right:103.4px;">10.7</div>
<div class="x c" style="top:459.99px;left:586.9px;">7.8–14.5</div>
<div class="x" style="top:447.99px;right:44.8px;">13.3</div>
<div class="x c" style="top:459.99px;left:643.5px;">10.9–17.2</div>
<div class="x b" style="top:471.99px;left:10.7px;">Local Surveys<sup>††</sup></div>
<div class="x" style="top:482.99px;left:18.6px;letter-spacing:0.04px;">Boston PS, MA</div>
<div class="x" style="top:482.99px;right:519.8px;">36.7</div>
<div class="x" style="top:482.99px;right:497.6px;">3.6</div>
<div class="x" style="top:482.99px;right:463.9px;">21.4</div>
<div class="x" style="top:482.99px;right:438.9px;">3.7</div>
<div class="x" style="top:482.99px;right:404.9px;">29.1</div>
<div class="x" style="top:482.99px;right:379.9px;">2.7</div>
<div class="x" style="top:482.99px;right:334.6px;">17.2</div>
<div class="x" style="top:482.99px;right:311.9px;">2.8</div>
<div class="x" style="top:482.99px;right:280.6px;">8.3</div>
<div class="x" style="top:482.99px;right:258.9px;">2.6</div>
<div class="x" style="top:482.99px;right:227.8px;">12.9</div>
<div class="x" style="top:482.99px;right:204.9px;">1.8</div>
<div class="x" style="top:482.99px;right:159.8px;">15.7</div>
<div class="x" style="top:482.99px;right:137.6px;">3.0</div>
<div class="x" style="top:482.99px;right:103.4px;">7.7</div>
<div class="x" style="top:482.99px;right:78.6px;">2.3</div>
<div class="x" style="top:482.99px;right:44.8px;">11.9</div>
<div class="x" style="top:482.99px;right:22.3px;">1.7</div>
<div class="x" style="top:493.99px;left:18.6px;letter-spacing:0.04px;">Broward County PS, FL</div>
<div class="x" style="top:493.99px;right:519.8px;">38.8</div>
<div class="x" style="top:493.99px;right:497.6px;">3.3</div>
<div class="x" style="top:493.99px;right:463.9px;">23.0</div>
<div class="x" style="top:493.99px;right:438.9px;">3.1</div>
<div class="x" style="top:493.99px;right:404.9px;">30.9</div>
<div class="x" style="top:493.99px;right:379.9px;">2.3</div>
<div class="x" style="top:493.99px;right:334.6px;">18.9</div>
<div class="x" style="top:493.99px;right:311.9px;">2.6</div>
<div class="x" style="top:493.99px;right:280.6px;">10.0</div>
<div class="x" style="top:493.99px;right:258.9px;">2.0</div>
<div class="x" style="top:493.99px;right:227.8px;">14.5</div>
<div class="x" style="top:493.99px;right:204.9px;">1.6</div>
<div class="x" style="top:493.99px;right:159.8px;">13.3</div>
<div class="x" style="top:493.99px;right:137.6px;">2.3</div>
<div class="x" style="top:493.99px;right:103.4px;">8.6</div>
<div class="x" style="top:493.99px;right:78.6px;">1.9</div>
<div class="x" style="top:493.99px;right:44.8px;">11.1</div>
<div class="x" style="top:493.99px;right:22.3px;">1.5</div>
<div class="x" style="top:504.99px;left:18.6px;letter-spacing:0.04px;">Chicago PS, IL</div>
<div class="x" style="top:504.99px;right:519.8px;">35.6</div>
<div class="x" style="top:504.99px;right:497.6px;">5.3</div>
<div class="x" style="top:504.99px;right:463.9px;">26.0</div>
<div class="x" style="top:504.99px;right:438.9px;">3.4</div>
<div class="x" style="top:504.99px;right:404.9px;">31.1</div>
<div class="x" style="top:504.99px;right:379.9px;">3.0</div>
<div class="x" style="top:504.99px;right:334.6px;">15.7</div>
<div class="x" style="top:504.99px;right:311.9px;">4.0</div>
<div class="x" style="top:504.99px;right:280.6px;">11.0</div>
<div class="x" style="top:504.99px;right:258.9px;">3.2</div>
<div class="x" style="top:504.99px;right:227.8px;">13.5</div>
<div class="x" style="top:504.99px;right:204.9px;">3.1</div>
<div class="x" style="top:504.99px;right:159.8px;">13.0</div>
<div class="x" style="top:504.99px;right:137.6px;">3.2</div>
<div class="x" style="top:504.99px;right:103.4px;">9.3</div>
<div class="x" style="top:504.99px;right:78.6px;">2.0</div>
<div class="x" style="top:504.99px;right:44.8px;">11.2</div>
<div class="x" style="top:504.99px;right:22.3px;">1.3</div>
<div class="x" style="top:515.99px;left:18.6px;letter-spacing:0.04px;">Dallas ISD, TX</div>
<div class="x" style="top:515.99px;right:519.8px;">40.1</div>
<div class="x" style="top:515.99px;right:497.6px;">2.8</div>
<div class="x" style="top:515.99px;right:463.9px;">20.2</div>
<div class="x" style="top:515.99px;right:438.9px;">3.2</div>
<div class="x" style="top:515.99px;right:404.9px;">30.4</div>
<div class="x" style="top:515.99px;right:379.9px;">2.2</div>
<div class="x" style="top:515.99px;right:334.6px;">22.1</div>
<div class="x" style="top:515.99px;right:311.9px;">2.6</div>
<div class="x" style="top:515.99px;right:280.6px;">8.2</div>
<div class="x" style="top:515.99px;right:258.9px;">2.1</div>
<div class="x" style="top:515.99px;right:227.8px;">15.3</div>
<div class="x" style="top:515.99px;right:204.9px;">1.7</div>
<div class="x" style="top:515.99px;right:159.8px;">17.1</div>
<div class="x" style="top:515.99px;right:137.6px;">3.3</div>
<div class="x" style="top:515.99px;right:103.4px;">6.2</div>
<div class="x" style="top:515.99px;right:78.6px;">1.9</div>
<div class="x" style="top:515.99px;right:44.8px;">11.7</div>
<div class="x" style="top:515.99px;right:22.3px;">2.0</div>
<div class="x" style="top:526.99px;left:18.6px;letter-spacing:0.04px;">DeKalb County PS, GA</div>
<div class="x" style="top:526.99px;right:519.8px;">34.7</div>
<div class="x" style="top:526.99px;right:497.6px;">2.8</div>
<div class="x" style="top:526.99px;right:463.9px;">22.2</div>
<div class="x" style="top:526.99px;right:438.9px;">2.8</div>
<div class="x" style="top:526.99px;right:404.9px;">28.5</div>
<div class="x" style="top:526.99px;right:379.9px;">2.0</div>
<div class="x" style="top:526.99px;right:334.6px;">18.7</div>
<div class="x" style="top:526.99px;right:311.9px;">2.4</div>
<div class="x" style="top:526.99px;right:280.6px;">8.5</div>
<div class="x" style="top:526.99px;right:258.9px;">1.6</div>
<div class="x" style="top:526.99px;right:227.8px;">13.7</div>
<div class="x" style="top:526.99px;right:204.9px;">1.6</div>
<div class="x" style="top:526.99px;right:159.8px;">12.9</div>
<div class="x" style="top:526.99px;right:137.6px;">2.2</div>
<div class="x" style="top:526.99px;right:103.4px;">8.4</div>
<div class="x" style="top:526.99px;right:78.6px;">1.8</div>
<div class="x" style="top:526.99px;right:44.8px;">10.7</div>
<div class="x" style="top:526.99px;right:22.3px;">1.5</div>
<div class="x" style="top:537.99px;left:18.6px;letter-spacing:0.04px;">Detroit PS, MI</div>
<div class="x" style="top:537.99px;right:519.8px;">37.5</div>
<div class="x" style="top:537.99px;right:497.6px;">4.1</div>
<div class="x" style="top:537.99px;right:463.9px;">24.8</div>
<div class="x" style="top:537.99px;right:438.9px;">3.1</div>
<div class="x" style="top:537.99px;right:404.9px;">31.4</div>
<div class="x" style="top:537.99px;right:379.9px;">2.9</div>
<div class="x" style="top:537.99px;right:334.6px;">17.7</div>
<div class="x" style="top:537.99px;right:311.9px;">3.7</div>
<div class="x" style="top:537.99px;right:280.6px;">11.0</div>
<div class="x" style="top:537.99px;right:258.9px;">2.8</div>
<div class="x" style="top:537.99px;right:227.8px;">14.6</div>
<div class="x" style="top:537.99px;right:204.9px;">2.5</div>
<div class="x" style="top:537.99px;right:159.8px;">13.1</div>
<div class="x" style="top:537.99px;right:137.6px;">3.4</div>
<div class="x" style="top:537.99px;right:103.4px;">9.5</div>
<div class="x" style="top:537.99px;right:78.6px;">2.3</div>
<div class="x" style="top:537.99px;right:44.8px;">11.4</div>
<div class="x" style="top:537.99px;right:22.3px;">2.3</div>
<div class="x" style="top:548.99px;left:18.6px;letter-spacing:0.04px;">District of Columbia PS</div>
<div class="x" style="top:548.99px;right:519.8px;">36.4</div>
<div class="x" style="top:548.99px;right:497.6px;">3.7</div>
<div class="x" style="top:548.99px;right:463.9px;">25.6</div>
<div class="x" style="top:548.99px;right:438.9px;">3.5</div>
<div class="x" style="top:548.99px;right:404.9px;">31.1</div>
<div class="x" style="top:548.99px;right:379.9px;">3.1</div>
<div class="x" style="top:548.99px;right:334.6px;">18.5</div>
<div class="x" style="top:548.99px;right:311.9px;">2.8</div>
<div class="x" style="top:548.99px;right:280.6px;">9.6</div>
<div class="x" style="top:548.99px;right:258.9px;">2.0</div>
<div class="x" style="top:548.99px;right:227.8px;">14.2</div>
<div class="x" style="top:548.99px;right:204.9px;">1.7</div>
<div class="x" style="top:548.99px;right:159.8px;">15.9</div>
<div class="x" style="top:548.99px;right:137.6px;">3.3</div>
<div class="x" style="top:548.99px;right:103.4px;">10.8</div>
<div class="x" style="top:548.99px;right:78.6px;">3.0</div>
<div class="x" style="top:548.99px;right:44.8px;">13.5</div>
<div class="x" style="top:548.99px;right:22.3px;">2.7</div>
<div class="x" style="top:558.99px;left:18.6px;letter-spacing:0.04px;">Los Angeles USD, CA</div>
<div class="x" style="top:558.99px;right:519.8px;">44.2</div>
<div class="x" style="top:558.99px;right:497.6px;">1.9</div>
<div class="x" style="top:558.99px;right:463.9px;">25.1</div>
<div class="x" style="top:558.99px;right:438.9px;">5.1</div>
<div class="x" style="top:558.99px;right:404.9px;">34.6</div>
<div class="x" style="top:558.99px;right:379.9px;">2.5</div>
<div class="x" style="top:558.99px;right:334.6px;">22.9</div>
<div class="x" style="top:558.99px;right:311.9px;">3.1</div>
<div class="x" style="top:558.99px;right:280.6px;">9.2</div>
<div class="x" style="top:558.99px;right:258.9px;">2.5</div>
<div class="x" style="top:558.99px;right:227.8px;">16.0</div>
<div class="x" style="top:558.99px;right:204.9px;">1.6</div>
<div class="x" style="top:558.99px;right:159.8px;">18.9</div>
<div class="x" style="top:558.99px;right:137.6px;">2.1</div>
<div class="x" style="top:558.99px;right:103.4px;">10.4</div>
<div class="x" style="top:558.99px;right:78.6px;">3.3</div>
<div class="x" style="top:558.99px;right:44.8px;">14.6</div>
<div class="x" style="top:558.99px;right:22.3px;">1.8</div>
<div class="x" style="top:569.99px;left:18.6px;letter-spacing:0.04px;">Memphis PS, TN</div>
<div class="x" style="top:569.99px;right:519.8px;">34.7</div>
<div class="x" style="top:569.99px;right:497.6px;">3.0</div>
<div class="x" style="top:569.99px;right:463.9px;">20.3</div>
<div class="x" style="top:569.99px;right:438.9px;">3.1</div>
<div class="x" style="top:569.99px;right:404.9px;">27.4</div>
<div class="x" style="top:569.99px;right:379.9px;">2.2</div>
<div class="x" style="top:569.99px;right:334.6px;">15.0</div>
<div class="x" style="top:569.99px;right:311.9px;">2.8</div>
<div class="x" style="top:569.99px;right:280.6px;">10.1</div>
<div class="x" style="top:569.99px;right:258.9px;">2.0</div>
<div class="x" style="top:569.99px;right:227.8px;">12.5</div>
<div class="x" style="top:569.99px;right:204.9px;">1.9</div>
<div class="x" style="top:569.99px;right:159.8px;">12.3</div>
<div class="x" style="top:569.99px;right:137.6px;">2.3</div>
<div class="x" style="top:569.99px;right:103.4px;">9.4</div>
<div class="x" style="top:569.99px;right:78.6px;">2.2</div>
<div class="x" style="top:569.99px;right:44.8px;">10.9</div>
<div class="x" style="top:569.99px;right:22.3px;">1.5</div>
<div class="x" style="top:580.99px;left:18.6px;letter-spacing:0.04px;">Miami-Dade County PS, FL</div>
<div class="x" style="top:580.99px;right:519.8px;">37.9</div>
<div class="x" style="top:580.99px;right:497.6px;">4.0</div>
<div class="x" style="top:580.99px;right:463.9px;">23.3</div>
<div class="x" style="top:580.99px;right:438.9px;">3.7</div>
<div class="x" style="top:580.99px;right:404.9px;">30.5</div>
<div class="x" style="top:580.99px;right:379.9px;">2.4</div>
<div class="x" style="top:580.99px;right:334.6px;">17.2</div>
<div class="x" style="top:580.99px;right:311.9px;">2.3</div>
<div class="x" style="top:580.99px;right:280.6px;">8.8</div>
<div class="x" style="top:580.99px;right:258.9px;">2.1</div>
<div class="x" style="top:580.99px;right:227.8px;">12.9</div>
<div class="x" style="top:580.99px;right:204.9px;">1.7</div>
<div class="x" style="top:580.99px;right:159.8px;">13.7</div>
<div class="x" style="top:580.99px;right:137.6px;">2.4</div>
<div class="x" style="top:580.99px;right:103.4px;">8.0</div>
<div class="x" style="top:580.99px;right:78.6px;">1.6</div>
<div class="x" style="top:580.99px;right:44.8px;">10.8</div>
<div class="x" style="top:580.99px;right:22.3px;">1.5</div>
<div class="x" style="top:591.99px;left:18.6px;letter-spacing:0.04px;">Milwaukee PS, WI</div>
<div class="x" style="top:591.99px;right:519.8px;">39.0</div>
<div class="x" style="top:591.99px;right:497.6px;">5.3</div>
<div class="x" style="top:591.99px;right:463.9px;">23.2</div>
<div class="x" style="top:591.99px;right:438.9px;">3.2</div>
<div class="x" style="top:591.99px;right:404.9px;">31.1</div>
<div class="x" style="top:591.99px;right:379.9px;">3.2</div>
<div class="x" style="top:591.99px;right:334.6px;">20.3</div>
<div class="x" style="top:591.99px;right:311.9px;">4.1</div>
<div class="x" style="top:591.99px;right:280.6px;">13.0</div>
<div class="x" style="top:591.99px;right:258.9px;">2.9</div>
<div class="x" style="top:591.99px;right:227.8px;">16.7</div>
<div class="x" style="top:591.99px;right:204.9px;">2.6</div>
<div class="x" style="top:591.99px;right:159.8px;">—</div>
<div class="x" style="top:591.99px;right:137.6px;">—</div>
<div class="x" style="top:591.99px;right:103.4px;">—</div>
<div class="x" style="top:591.99px;right:78.6px;">—</div>
<div class="x" style="top:591.99px;right:44.8px;">—</div>
<div class="x" style="top:591.99px;right:22.3px;">—</div>
<div class="x" style="top:602.99px;left:18.6px;letter-spacing:0.04px;">New Orleans PS, LA</div>
<div class="x" style="top:602.99px;right:519.8px;">32.6</div>
<div class="x" style="top:602.99px;right:497.6px;">3.0</div>
<div class="x" style="top:602.99px;right:463.9px;">18.8</div>
<div class="x" style="top:602.99px;right:438.9px;">3.1</div>
<div class="x" style="top:602.99px;right:404.9px;">25.9</div>
<div class="x" style="top:602.99px;right:379.9px;">2.2</div>
<div class="x" style="top:602.99px;right:334.6px;">12.4</div>
<div class="x" style="top:602.99px;right:311.9px;">2.4</div>
<div class="x" style="top:602.99px;right:280.6px;">10.6</div>
<div class="x" style="top:602.99px;right:258.9px;">2.3</div>
<div class="x" style="top:602.99px;right:227.8px;">11.5</div>
<div class="x" style="top:602.99px;right:204.9px;">1.7</div>
<div class="x" style="top:602.99px;right:159.8px;">9.5</div>
<div class="x" style="top:602.99px;right:137.6px;">2.1</div>
<div class="x" style="top:602.99px;right:103.4px;">7.6</div>
<div class="x" style="top:602.99px;right:78.6px;">1.8</div>
<div class="x" style="top:602.99px;right:44.8px;">8.6</div>
<div class="x" style="top:602.99px;right:22.3px;">1.3</div>
<div class="x" style="top:613.99px;left:18.6px;letter-spacing:0.04px;">New York City PS, NY</div>
<div class="x" style="top:613.99px;right:519.8px;">39.3</div>
<div class="x" style="top:613.99px;right:497.6px;">2.4</div>
<div class="x" style="top:613.99px;right:463.9px;">24.9</div>
<div class="x" style="top:613.99px;right:438.9px;">1.7</div>
<div class="x" style="top:613.99px;right:404.9px;">32.2</div>
<div class="x" style="top:613.99px;right:379.9px;">1.6</div>
<div class="x" style="top:613.99px;right:334.6px;">17.8</div>
<div class="x" style="top:613.99px;right:311.9px;">2.1</div>
<div class="x" style="top:613.99px;right:280.6px;">9.3</div>
<div class="x" style="top:613.99px;right:258.9px;">1.1</div>
<div class="x" style="top:613.99px;right:227.8px;">13.6</div>
<div class="x" style="top:613.99px;right:204.9px;">1.4</div>
<div class="x" style="top:613.99px;right:159.8px;">13.5</div>
<div class="x" style="top:613.99px;right:137.6px;">1.8</div>
<div class="x" style="top:613.99px;right:103.4px;">7.9</div>
<div class="x" style="top:613.99px;right:78.6px;">1.1</div>
<div class="x" style="top:613.99px;right:44.8px;">10.7</div>
<div class="x" style="top:613.99px;right:22.3px;">1.2</div>
<div class="x" style="top:624.99px;left:18.6px;letter-spacing:0.04px;">Orange County PS, FL</div>
<div class="x" style="top:624.99px;right:519.8px;">37.0</div>
<div class="x" style="top:624.99px;right:497.6px;">7.0</div>
<div class="x" style="top:624.99px;right:463.9px;">18.6</div>
<div class="x" style="top:624.99px;right:438.9px;">3.8</div>
<div class="x" style="top:624.99px;right:404.9px;">27.8</div>
<div class="x" style="top:624.99px;right:379.9px;">4.3</div>
<div class="x" style="top:624.99px;right:334.6px;">20.2</div>
<div class="x" style="top:624.99px;right:311.9px;">3.8</div>
<div class="x" style="top:624.99px;right:280.6px;">10.3</div>
<div class="x" style="top:624.99px;right:258.9px;">2.5</div>
<div class="x" style="top:624.99px;right:227.8px;">15.3</div>
<div class="x" style="top:624.99px;right:204.9px;">2.7</div>
<div class="x" style="top:624.99px;right:159.8px;">15.0</div>
<div class="x" style="top:624.99px;right:137.6px;">2.3</div>
<div class="x" style="top:624.99px;right:103.4px;">10.1</div>
<div class="x" style="top:624.99px;right:78.6px;">3.2</div>
<div class="x" style="top:624.99px;right:44.8px;">12.6</div>
<div class="x" style="top:624.99px;right:22.3px;">2.5</div>
<div class="x" style="top:635.99px;left:18.6px;letter-spacing:0.04px;">Palm Beach County SD, FL</div>
<div class="x" style="top:635.99px;right:519.8px;">39.9</div>
<div class="x" style="top:635.99px;right:497.6px;">3.7</div>
<div class="x" style="top:635.99px;right:463.9px;">24.9</div>
<div class="x" style="top:635.99px;right:438.9px;">3.0</div>
<div class="x" style="top:635.99px;right:404.9px;">32.5</div>
<div class="x" style="top:635.99px;right:379.9px;">2.3</div>
<div class="x" style="top:635.99px;right:334.6px;">22.2</div>
<div class="x" style="top:635.99px;right:311.9px;">3.0</div>
<div class="x" style="top:635.99px;right:280.6px;">13.1</div>
<div class="x" style="top:635.99px;right:258.9px;">2.4</div>
<div class="x" style="top:635.99px;right:227.8px;">17.7</div>
<div class="x" style="top:635.99px;right:204.9px;">2.1</div>
<div class="x" style="top:635.99px;right:159.8px;">15.4</div>
<div class="x" style="top:635.99px;right:137.6px;">2.4</div>
<div class="x" style="top:635.99px;right:103.4px;">9.7</div>
<div class="x" style="top:635.99px;right:78.6px;">2.2</div>
<div class="x" style="top:635.99px;right:44.8px;">12.7</div>
<div class="x" style="top:635.99px;right:22.3px;">1.6</div>
<div class="x" style="top:645.99px;left:18.6px;letter-spacing:0.04px;">Philadelphia SD, PA</div>
<div class="x" style="top:645.99px;right:519.8px;">38.9</div>
<div class="x" style="top:645.99px;right:497.6px;">3.9</div>
<div class="x" style="top:645.99px;right:463.9px;">28.5</div>
<div class="x" style="top:645.99px;right:438.9px;">3.4</div>
<div class="x" style="top:645.99px;right:404.9px;">33.9</div>
<div class="x" style="top:645.99px;right:379.9px;">3.0</div>
<div class="x" style="top:645.99px;right:334.6px;">18.7</div>
<div class="x" style="top:645.99px;right:311.9px;">3.0</div>
<div class="x" style="top:645.99px;right:280.6px;">9.1</div>
<div class="x" style="top:645.99px;right:258.9px;">1.7</div>
<div class="x" style="top:645.99px;right:227.8px;">14.0</div>
<div class="x" style="top:645.99px;right:204.9px;">1.7</div>
<div class="x" style="top:645.99px;right:159.8px;">15.6</div>
<div class="x" style="top:645.99px;right:137.6px;">2.8</div>
<div class="x" style="top:645.99px;right:103.4px;">9.2</div>
<div class="x" style="top:645.99px;right:78.6px;">2.3</div>
<div class="x" style="top:645.99px;right:44.8px;">12.4</div>
<div class="x" style="top:645.99px;right:22.3px;">2.0</div>
<div class="x" style="top:656.99px;left:18.6px;letter-spacing:0.04px;">San Bernardino USD, CA</div>
<div class="x" style="top:656.99px;right:519.8px;">38.9</div>
<div class="x" style="top:656.99px;right:497.6px;">3.4</div>
<div class="x" style="top:656.99px;right:463.9px;">24.7</div>
<div class="x" style="top:656.99px;right:438.9px;">3.7</div>
<div class="x" style="top:656.99px;right:404.9px;">31.9</div>
<div class="x" style="top:656.99px;right:379.9px;">2.6</div>
<div class="x" style="top:656.99px;right:334.6px;">20.1</div>
<div class="x" style="top:656.99px;right:311.9px;">2.8</div>
<div class="x" style="top:656.99px;right:280.6px;">12.6</div>
<div class="x" style="top:656.99px;right:258.9px;">3.0</div>
<div class="x" style="top:656.99px;right:227.8px;">16.6</div>
<div class="x" style="top:656.99px;right:204.9px;">2.0</div>
<div class="x" style="top:656.99px;right:159.8px;">16.4</div>
<div class="x" style="top:656.99px;right:137.6px;">2.7</div>
<div class="x" style="top:656.99px;right:103.4px;">13.4</div>
<div class="x" style="top:656.99px;right:78.6px;">2.5</div>
<div class="x" style="top:656.99px;right:44.8px;">15.0</div>
<div class="x" style="top:656.99px;right:22.3px;">1.7</div>
<div class="x" style="top:667.99px;left:18.6px;letter-spacing:0.04px;">San Diego USD, CA</div>
<div class="x" style="top:667.99px;right:519.8px;">40.7</div>
<div class="x" style="top:667.99px;right:497.6px;">4.1</div>
<div class="x" style="top:667.99px;right:463.9px;">22.0</div>
<div class="x" style="top:667.99px;right:438.9px;">3.5</div>
<div class="x" style="top:667.99px;right:404.9px;">31.1</div>
<div class="x" style="top:667.99px;right:379.9px;">2.8</div>
<div class="x" style="top:667.99px;right:334.6px;">24.6</div>
<div class="x" style="top:667.99px;right:311.9px;">3.5</div>
<div class="x" style="top:667.99px;right:280.6px;">14.4</div>
<div class="x" style="top:667.99px;right:258.9px;">2.9</div>
<div class="x" style="top:667.99px;right:227.8px;">19.4</div>
<div class="x" style="top:667.99px;right:204.9px;">2.2</div>
<div class="x" style="top:667.99px;right:159.8px;">21.7</div>
<div class="x" style="top:667.99px;right:137.6px;">2.9</div>
<div class="x" style="top:667.99px;right:103.4px;">11.8</div>
<div class="x" style="top:667.99px;right:78.6px;">2.3</div>
<div class="x" style="top:667.99px;right:44.8px;">16.7</div>
<div class="x" style="top:667.99px;right:22.3px;">1.9</div>
<div class="x b" style="top:680.99px;left:10.7px;">Median</div>
<div class="x b" style="top:692.99px;left:10.7px;">Range</div>
<div class="x" style="top:680.99px;right:519.8px;">38.3</div>
<div class="x c" style="top:692.99px;left:171px;">32.6-44.2</div>
<div class="x" style="top:680.99px;right:463.9px;">23.2</div>
<div class="x c" style="top:692.99px;left:225.7px;">18.6-28.5</div>
<div class="x" style="top:680.99px;right:404.9px;">31.1</div>
<div class="x c" style="top:692.99px;left:285.7px;">25.9-34.6</div>
<div class="x" style="top:680.99px;right:334.6px;">18.7</div>
<div class="x c" style="top:692.99px;left:356.6px;">12.4-24.6</div>
<div class="x" style="top:680.99px;right:280.6px;">10.0</div>
<div class="x c" style="top:692.99px;left:409.9px;">8.2-14.4</div>
<div class="x" style="top:680.99px;right:227.8px;">14.3</div>
<div class="x c" style="top:692.99px;left:463.5px;">11.5-19.4</div>
<div class="x" style="top:680.99px;right:159.8px;">15.0</div>
<div class="x c" style="top:692.99px;left:530.1px;">9.5-21.7</div>
<div class="x" style="top:680.99px;right:103.4px;">9.3</div>
<div class="x c" style="top:692.99px;left:586.9px;">6.2-13.4</div>
<div class="x" style="top:680.99px;right:44.8px;">11.7</div>
<div class="x c" style="top:692.99px;left:643.5px;">8.6-16.7</div>
<div class="x" style="top:706.07px;right:678px;font-size:7px;">*</div>
<div class="x" style="top:706.99px;left:21.4px;letter-spacing:-0.018px;">Felt so sad or hopeless almost every day for <u>&gt;</u>2 weeks in a row that they stopped doing some usual activities.</div>
<div class="x" style="top:715.07px;right:678px;font-size:7px;">†</div>
<div class="x" style="top:715.99px;left:21.4px;letter-spacing:-0.012px;">During the 12 months preceding the survey.</div>
<div class="x" style="top:724.07px;right:678px;font-size:7px;">§</div>
<div class="x" style="top:724.99px;left:21.4px;letter-spacing:0.018px;">95% confidence interval.</div>
<div class="x" style="top:733.07px;right:678px;font-size:7px;">¶</div>
<div class="x" style="top:733.99px;left:21.4px;letter-spacing:-0.131px;">Not available.</div>
<div class="x" style="top:741.07px;right:678px;font-size:7px;">**</div>
<div class="x" style="top:741.99px;left:21.4px;letter-spacing:-0.005px;">Survey did not include students from one of the state’s large school districts.</div>
<div class="x" style="top:750.07px;right:678px;font-size:7px;">††</div>
<div class="x" style="top:750.99px;left:21.4px;letter-spacing:0.001px;">PS = public school, SD = school district, ISD = independent school district, USD = unified school district.</div>
</body></html>
